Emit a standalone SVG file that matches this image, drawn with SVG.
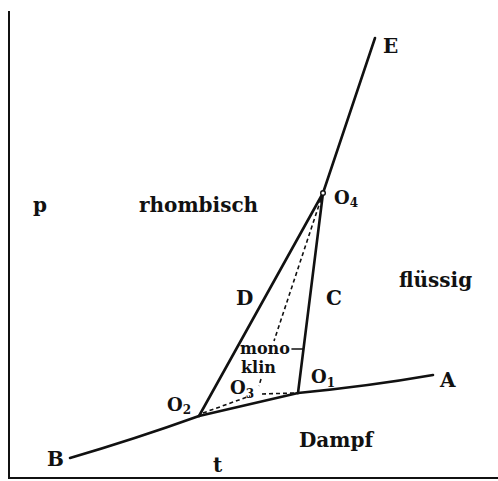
<svg xmlns="http://www.w3.org/2000/svg" width="498" height="481" viewBox="0 0 498 481">
<style>
.ln{fill:none;stroke:#111;stroke-width:2.6;stroke-linecap:round;stroke-linejoin:round}
.ax{fill:none;stroke:#111;stroke-width:2}
.ds{fill:none;stroke:#111;stroke-width:1.6;stroke-dasharray:4 3}
.t{font-family:"DejaVu Serif","Liberation Serif",serif;font-weight:bold;fill:#111;font-size:20px}
.s{font-size:16px}
.o{font-size:18px}
.sub{font-size:12px}
</style>
<rect width="498" height="481" fill="#fff"/>
<g id="axes">
<path class="ax" d="M9,11 V478 H498"/>
</g>
<g id="connectors">
<path class="ln" d="M375,38 L323,193"/>
<path class="ln" d="M323,193 L199,416"/>
<path class="ln" d="M323,193 L298,393"/>
<path class="ln" d="M70,458 Q135,439 199,416"/>
<path class="ln" d="M199,416 L298,393"/>
<path class="ln" d="M298,393 Q370,386 433,375"/>
<path class="ds" d="M321,199 L274,341"/>
<path class="ds" d="M261,379 L259,386"/>
<path class="ds" d="M203,413 L250,396"/>
<path class="ds" d="M262,394 L294,393"/>
<path class="ln" d="M292,349 H303" style="stroke-width:1.6"/>
<circle cx="323" cy="193" r="2.3" fill="#fff" stroke="#111" stroke-width="1.4"/>
</g>
<g id="labels">
<g id="E"><text class="t" x="383" y="53">E</text></g>
<g id="O4"><text class="t o" x="334" y="204">O<tspan class="sub" dy="3">4</tspan></text></g>
<g id="p"><text class="t" x="33" y="212">p</text></g>
<g id="rhombisch"><text class="t" x="139" y="212">rhombisch</text></g>
<g id="D"><text class="t" x="236" y="305">D</text></g>
<g id="C"><text class="t" x="326" y="305">C</text></g>
<g id="fluessig"><text class="t" x="399" y="287">flüssig</text></g>
<g id="monoklin"><text class="t s" x="240" y="354">mono</text><text class="t s" x="241" y="373">klin</text></g>
<g id="O3"><text class="t o" x="230" y="394">O<tspan class="sub" dy="4">3</tspan></text></g>
<g id="O1"><text class="t o" x="311" y="383">O<tspan class="sub" dy="4">1</tspan></text></g>
<g id="O2"><text class="t o" x="167" y="411">O<tspan class="sub" dy="3">2</tspan></text></g>
<g id="A"><text class="t" x="440" y="387">A</text></g>
<g id="B"><text class="t" x="47" y="466">B</text></g>
<g id="t"><text class="t" x="213" y="472">t</text></g>
<g id="Dampf"><text class="t" x="299" y="447">Dampf</text></g>
</g>
</svg>
